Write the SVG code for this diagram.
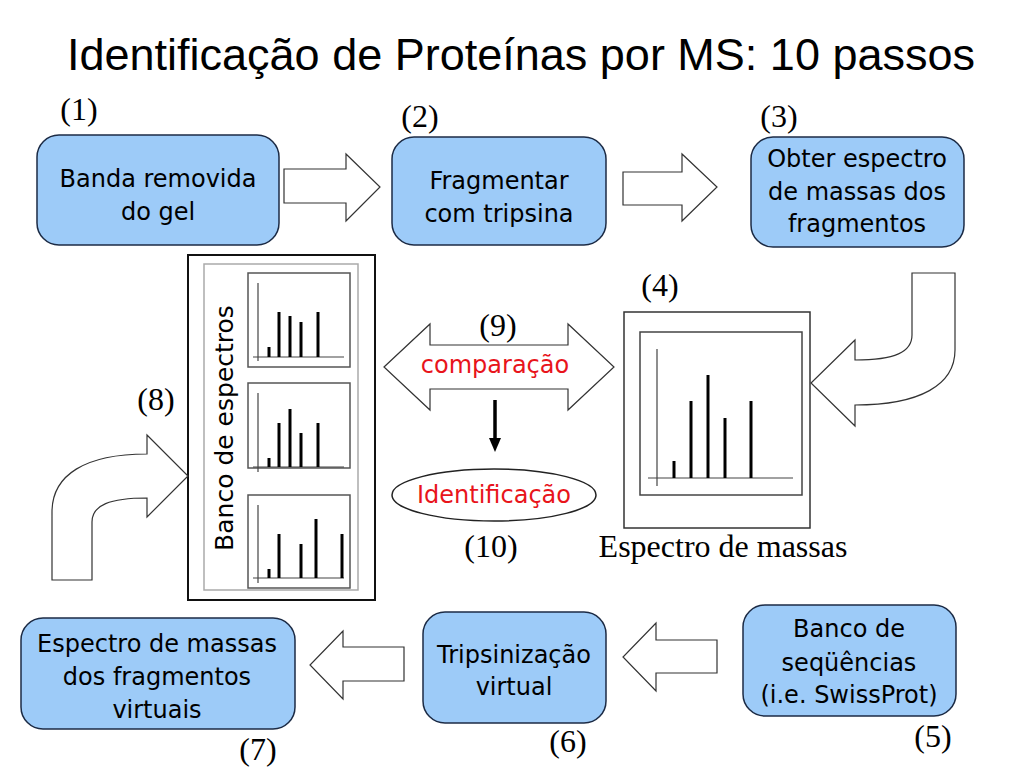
<svg xmlns="http://www.w3.org/2000/svg" width="1024" height="768" viewBox="0 0 1024 768">
<style>
.box{fill:#9dcbf8;stroke:#1c2b45;stroke-width:1.5}
.bt{font-family:"DejaVu Sans",Verdana,sans-serif;font-size:24px;fill:#000;text-anchor:middle}
.lbl{font-family:"Liberation Serif","Times New Roman",serif;font-size:32px;fill:#000;text-anchor:middle}
.red{font-family:"DejaVu Sans",Verdana,sans-serif;font-size:24px;fill:#e8141b;text-anchor:middle}
.blk{fill:#fff;stroke:#333;stroke-width:1.2}
.frame{fill:#fff;stroke:#555;stroke-width:1.5}
.ax{stroke:#444;stroke-width:1.2}
.bar{stroke:#000;stroke-width:3}
</style>
<rect width="1024" height="768" fill="#fff"/>
<text x="521" y="70" font-family="'Liberation Sans',Arial,sans-serif" font-size="45" text-anchor="middle">Identificação de Proteínas por MS: 10 passos</text>

<g id="node1">
<rect class="box" x="37" y="135" width="242" height="110" rx="22"/>
<text class="bt" x="158" y="187">Banda removida</text>
<text class="bt" x="158" y="220">do gel</text>
<text class="lbl" x="79" y="120">(1)</text>
</g>
<g id="node2">
<rect class="box" x="392" y="137" width="214" height="108" rx="22"/>
<text class="bt" x="499" y="189">Fragmentar</text>
<text class="bt" x="499" y="222">com tripsina</text>
<text class="lbl" x="420" y="127">(2)</text>
</g>
<g id="node3">
<rect class="box" x="751" y="137" width="213" height="110" rx="22"/>
<text class="bt" x="857" y="167">Obter espectro</text>
<text class="bt" x="857" y="200">de massas dos</text>
<text class="bt" x="857" y="232">fragmentos</text>
<text class="lbl" x="779" y="127">(3)</text>
</g>

<g id="node4">
<rect x="624" y="312" width="186" height="216" fill="#fff" stroke="#333" stroke-width="1.5"/>
<rect x="640" y="332" width="162" height="163" fill="#fff" stroke="#444" stroke-width="1.5"/>
<line class="ax" x1="657" y1="349" x2="657" y2="486"/>
<line class="ax" x1="648" y1="478" x2="793" y2="478"/>
<line class="bar" x1="674" y1="478" x2="674" y2="461"/>
<line class="bar" x1="691" y1="478" x2="691" y2="401"/>
<line class="bar" x1="708" y1="478" x2="708" y2="375"/>
<line class="bar" x1="725" y1="478" x2="725" y2="418"/>
<line class="bar" x1="751" y1="478" x2="751" y2="401"/>
<text class="lbl" x="660" y="296">(4)</text>
<text class="lbl" x="723" y="557">Espectro de massas</text>
</g>

<g id="node8">
<rect x="188" y="255" width="187" height="345" fill="#fff" stroke="#111" stroke-width="2"/>
<rect x="204" y="264" width="154" height="326" fill="#fff" stroke="#aaa" stroke-width="1.5"/>
<text x="0" y="0" transform="translate(233,428) rotate(-90)" font-family="'DejaVu Sans',Verdana,sans-serif" font-size="25" text-anchor="middle">Banco de espectros</text>
<rect class="frame" x="248" y="273" width="102" height="94"/>
<line class="ax" x1="258" y1="283" x2="258" y2="361"/>
<line class="ax" x1="253" y1="357" x2="344" y2="357"/>
<line class="bar" x1="269" y1="357" x2="269" y2="347"/>
<line class="bar" x1="279" y1="357" x2="279" y2="312"/>
<line class="bar" x1="290" y1="357" x2="290" y2="316"/>
<line class="bar" x1="301" y1="357" x2="301" y2="322"/>
<line class="bar" x1="318" y1="357" x2="318" y2="312"/>
<rect class="frame" x="248" y="383" width="102" height="85"/>
<line class="ax" x1="258" y1="393" x2="258" y2="472"/>
<line class="ax" x1="253" y1="467" x2="344" y2="467"/>
<line class="bar" x1="269" y1="467" x2="269" y2="458"/>
<line class="bar" x1="279" y1="467" x2="279" y2="423"/>
<line class="bar" x1="290" y1="467" x2="290" y2="409"/>
<line class="bar" x1="301" y1="467" x2="301" y2="433"/>
<line class="bar" x1="318" y1="467" x2="318" y2="423"/>
<rect class="frame" x="248" y="495" width="102" height="93"/>
<line class="ax" x1="258" y1="505" x2="258" y2="583"/>
<line class="ax" x1="253" y1="578" x2="344" y2="578"/>
<line class="bar" x1="269" y1="578" x2="269" y2="569"/>
<line class="bar" x1="279" y1="578" x2="279" y2="534"/>
<line class="bar" x1="301" y1="578" x2="301" y2="544"/>
<line class="bar" x1="316" y1="578" x2="316" y2="519"/>
<line class="bar" x1="342" y1="578" x2="342" y2="534"/>
<text class="lbl" x="156" y="410">(8)</text>
</g>

<g id="node10">
<ellipse cx="494" cy="495" rx="102" ry="26" fill="#fff" stroke="#222" stroke-width="1.5"/>
<text class="red" x="494" y="503">Identificação</text>
<text class="lbl" x="491" y="557">(10)</text>
</g>

<g id="node5">
<rect class="box" x="743" y="605" width="213" height="111" rx="22"/>
<text class="bt" x="849" y="637">Banco de</text>
<text class="bt" x="849" y="671">seqüências</text>
<text class="bt" x="849" y="703">(i.e. SwissProt)</text>
<text class="lbl" x="933" y="747">(5)</text>
</g>
<g id="node6">
<rect class="box" x="423" y="612" width="183" height="111" rx="22"/>
<text class="bt" x="514" y="663">Tripsinização</text>
<text class="bt" x="514" y="695">virtual</text>
<text class="lbl" x="568" y="752">(6)</text>
</g>
<g id="node7">
<rect class="box" x="21" y="618" width="274" height="111" rx="22"/>
<text class="bt" x="157" y="652">Espectro de massas</text>
<text class="bt" x="157" y="685">dos fragmentos</text>
<text class="bt" x="157" y="718">virtuais</text>
<text class="lbl" x="258" y="760">(7)</text>
</g>

<g id="connectors">
<path class="blk" d="M284,169 H346 V154 L380,187 L346,221 V203 H284 Z"/>
<path class="blk" d="M623,172 H682 V154 L717,187 L682,221 V205 H623 Z"/>
<path class="blk" d="M912,273 H955 V350 C955,385 920,405 855,405 V426 L811,383 L855,340 V360 C895,360 912,352 912,335 Z"/>
<path class="blk" d="M384,367 L430,324 V345 H568 V324 L614,367 L568,410 V389 H430 V410 Z"/>
<text class="lbl" x="498" y="336">(9)</text>
<text class="red" x="495" y="373">comparação</text>
<line x1="495" y1="400" x2="495" y2="440" stroke="#000" stroke-width="3.5"/>
<polygon points="489,438 501,438 495,452" fill="#000"/>
<path class="blk" d="M52,580 V512 C52,475 85,454 147,454 V435 L188,476 L147,517 V498 C110,498 92,505 92,522 V580 Z"/>
<path class="blk" d="M717,640 H656 V623 L623,657 L656,691 V673 H717 Z"/>
<path class="blk" d="M404,647 H343 V631 L310,665 L343,699 V681 H404 Z"/>
</g>
</svg>
